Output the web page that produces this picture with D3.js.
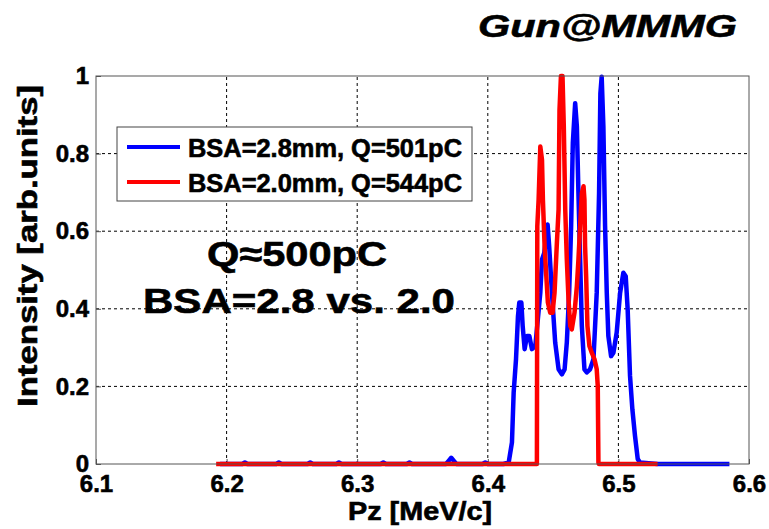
<!DOCTYPE html>
<html><head><meta charset="utf-8">
<script src="https://cdn.jsdelivr.net/npm/d3@7"></script>
<style>body{margin:0;background:#fff}svg{display:block}</style>
</head><body>
<svg id="chart" width="769" height="529"></svg>
<script>
// ---- data ----
const xTicks = [6.1, 6.2, 6.3, 6.4, 6.5, 6.6];
const xTickLabels = ["6.1", "6.2", "6.3", "6.4", "6.5", "6.6"];
const yTicks = [0, 0.2, 0.4, 0.6, 0.8, 1];
const yTickLabels = ["0", "0.2", "0.4", "0.6", "0.8", "1"];
const seriesNames = ["BSA=2.8mm, Q=501pC", "BSA=2.0mm, Q=544pC"];
const seriesColors = ["#0000ff", "#ff0000"];

const bluePz = [6.195,6.212,6.214,6.216,6.238,6.240,6.242,6.262,6.264,6.266,6.284,6.286,6.288,6.318,6.320,6.322,6.338,6.340,6.342,6.368,6.370,6.372,6.374,6.376,6.396,6.398,6.400,6.412,
  6.4160,6.4185,6.4198,6.4216,6.4231,6.4241,6.4257,6.4267,6.4282,6.4300,6.4318,6.4338,6.4364,6.4402,6.4415,6.4432,6.4458,6.4470,6.4491,6.4516,6.4542,6.4567,6.4588,6.4605,6.4623,6.4638,6.4651,6.4669,6.4682,6.4694,6.4707,6.4720,6.4740,6.4758,6.4783,6.4809,6.4834,6.4852,6.4862,6.4872,6.4885,6.4898,6.4911,6.4923,6.4944,6.4962,6.4987,6.5013,6.5038,6.5056,6.5071,6.5089,6.5107,6.5127,6.5148,6.5165,6.530,6.585];
const blueI = [0,0,0.004,0,0,0.004,0,0,0.004,0,0,0.004,0,0,0.004,0,0,0.004,0,0,0.008,0.016,0.008,0,0,0.004,0,0,
  0.004,0.056,0.184,0.27,0.381,0.416,0.416,0.356,0.296,0.33,0.33,0.296,0.304,0.441,0.527,0.544,0.617,0.561,0.441,0.313,0.244,0.231,0.244,0.313,0.441,0.613,0.827,0.93,0.87,0.698,0.527,0.356,0.244,0.236,0.244,0.27,0.441,0.698,0.955,0.998,0.87,0.613,0.441,0.33,0.278,0.287,0.339,0.441,0.493,0.484,0.398,0.227,0.141,0.073,0.013,0.004,0,0];

const redPz = [6.192,6.4376,6.4379,6.4389,6.4402,6.4415,6.4422,6.4435,6.4448,6.4460,6.4478,6.4496,6.4511,6.4529,6.4542,6.4549,6.4560,6.4572,6.4582,6.4593,6.4605,6.4618,6.4631,6.4643,6.4664,6.4682,6.4694,6.4707,6.4720,6.4733,6.4740,6.4745,6.4753,6.4763,6.4778,6.4796,6.4817,6.4834,6.4842,6.4847,6.4850,6.530];
const redI = [0,0,0.613,0.681,0.818,0.784,0.681,0.561,0.484,0.416,0.39,0.39,0.441,0.57,0.656,0.913,1.0,1.0,0.87,0.656,0.527,0.424,0.356,0.347,0.39,0.458,0.527,0.613,0.698,0.716,0.681,0.561,0.484,0.356,0.304,0.287,0.27,0.244,0.201,0.004,0,0];

// ---- drawing ----
const svg = d3.select("#chart");
const FONT = "'Liberation Sans', Arial, sans-serif";
const heavy = s => s.attr("font-family", FONT).attr("font-weight", "bold").attr("fill", "#000")
  .attr("stroke", "#000").attr("stroke-width", 0.6);
svg.append("rect").attr("width", 769).attr("height", 529).attr("fill", "#fff");

const x = d3.scaleLinear().domain([6.1, 6.6]).range([96, 749]);
const y = d3.scaleLinear().domain([0, 1]).range([464, 76]);

// grid
const grid = svg.append("g");
grid.selectAll("line.gx").data(xTicks.slice(1, -1)).enter().append("line")
  .attr("x1", d => x(d)).attr("x2", d => x(d)).attr("y1", y(0)).attr("y2", y(1))
  .attr("stroke", "#000").attr("stroke-width", 1).attr("stroke-dasharray", "3,3");
grid.selectAll("line.gy").data(yTicks.slice(1, -1)).enter().append("line")
  .attr("x1", x(6.1)).attr("x2", x(6.6)).attr("y1", d => y(d)).attr("y2", d => y(d))
  .attr("stroke", "#000").attr("stroke-width", 1).attr("stroke-dasharray", "3,3");

// axes
const xAxis = d3.axisBottom(x).tickValues(xTicks).tickFormat((d, i) => xTickLabels[i])
  .tickSizeInner(-5).tickSizeOuter(0).tickPadding(11);
const gx = svg.append("g").attr("transform", `translate(0,${y(0)})`).call(xAxis);
const yAxis = d3.axisLeft(y).tickValues(yTicks).tickFormat((d, i) => yTickLabels[i])
  .tickSizeInner(-5).tickSizeOuter(0).tickPadding(7);
const gy = svg.append("g").attr("transform", `translate(${x(6.1)},0)`).call(yAxis);
[gx, gy].forEach(g => {
  g.select(".domain").remove();
  g.selectAll(".tick line").attr("stroke", "#555");
  g.selectAll(".tick text").call(heavy).attr("font-size", 24);
});

// legend
svg.append("rect").attr("x", 117).attr("y", 127).attr("width", 355).attr("height", 74)
  .attr("fill", "#fff").attr("stroke", "#444").attr("stroke-width", 1);
seriesNames.forEach((name, i) => {
  const ly = 147 + i * 35;
  svg.append("line").attr("x1", 127).attr("x2", 180).attr("y1", ly).attr("y2", ly)
    .attr("stroke", seriesColors[i]).attr("stroke-width", 4);
  svg.append("text").attr("x", 188).attr("y", 157 + i * 35).text(name)
    .call(heavy).attr("font-size", 25)
    .attr("textLength", 274).attr("lengthAdjust", "spacingAndGlyphs");
});

// annotation
svg.append("text").attr("x", 297).attr("y", 266).attr("text-anchor", "middle").text("Q≈500pC")
  .call(heavy).attr("font-size", 35)
  .attr("textLength", 180).attr("lengthAdjust", "spacingAndGlyphs");
svg.append("text").attr("x", 299).attr("y", 313).attr("text-anchor", "middle").text("BSA=2.8 vs. 2.0")
  .call(heavy).attr("font-size", 35)
  .attr("textLength", 312).attr("lengthAdjust", "spacingAndGlyphs");

// lines
const line = d3.line().x(d => x(d[0])).y(d => y(d[1]));
const blueData = bluePz.map((p, i) => [p, blueI[i]]);
const redData = redPz.map((p, i) => [p, redI[i]]);
svg.append("path").datum(blueData).attr("d", line).attr("fill", "none")
  .attr("stroke", seriesColors[0]).attr("stroke-width", 4.5).attr("stroke-linejoin", "round");
svg.append("path").datum(redData).attr("d", line).attr("fill", "none")
  .attr("stroke", seriesColors[1]).attr("stroke-width", 4.5).attr("stroke-linejoin", "round");

// frame
svg.append("rect").attr("x", x(6.1)).attr("y", y(1)).attr("width", x(6.6) - x(6.1)).attr("height", y(0) - y(1))
  .attr("fill", "none").attr("stroke", "#555").attr("stroke-width", 1);

// titles
svg.append("text").attr("x", 420).attr("y", 520).attr("text-anchor", "middle").text("Pz [MeV/c]")
  .call(heavy).attr("font-size", 25)
  .attr("textLength", 144).attr("lengthAdjust", "spacingAndGlyphs");
svg.append("text").attr("transform", "translate(37,246) rotate(-90)").attr("text-anchor", "middle")
  .text("Intensity [arb.units]")
  .call(heavy).attr("font-size", 27)
  .attr("textLength", 322).attr("lengthAdjust", "spacingAndGlyphs");
svg.append("text").attr("x", 478).attr("y", 37).text("Gun@MMMG")
  .call(heavy).attr("font-style", "italic").attr("font-size", 32)
  .attr("textLength", 259).attr("lengthAdjust", "spacingAndGlyphs");
</script>
</body></html>
